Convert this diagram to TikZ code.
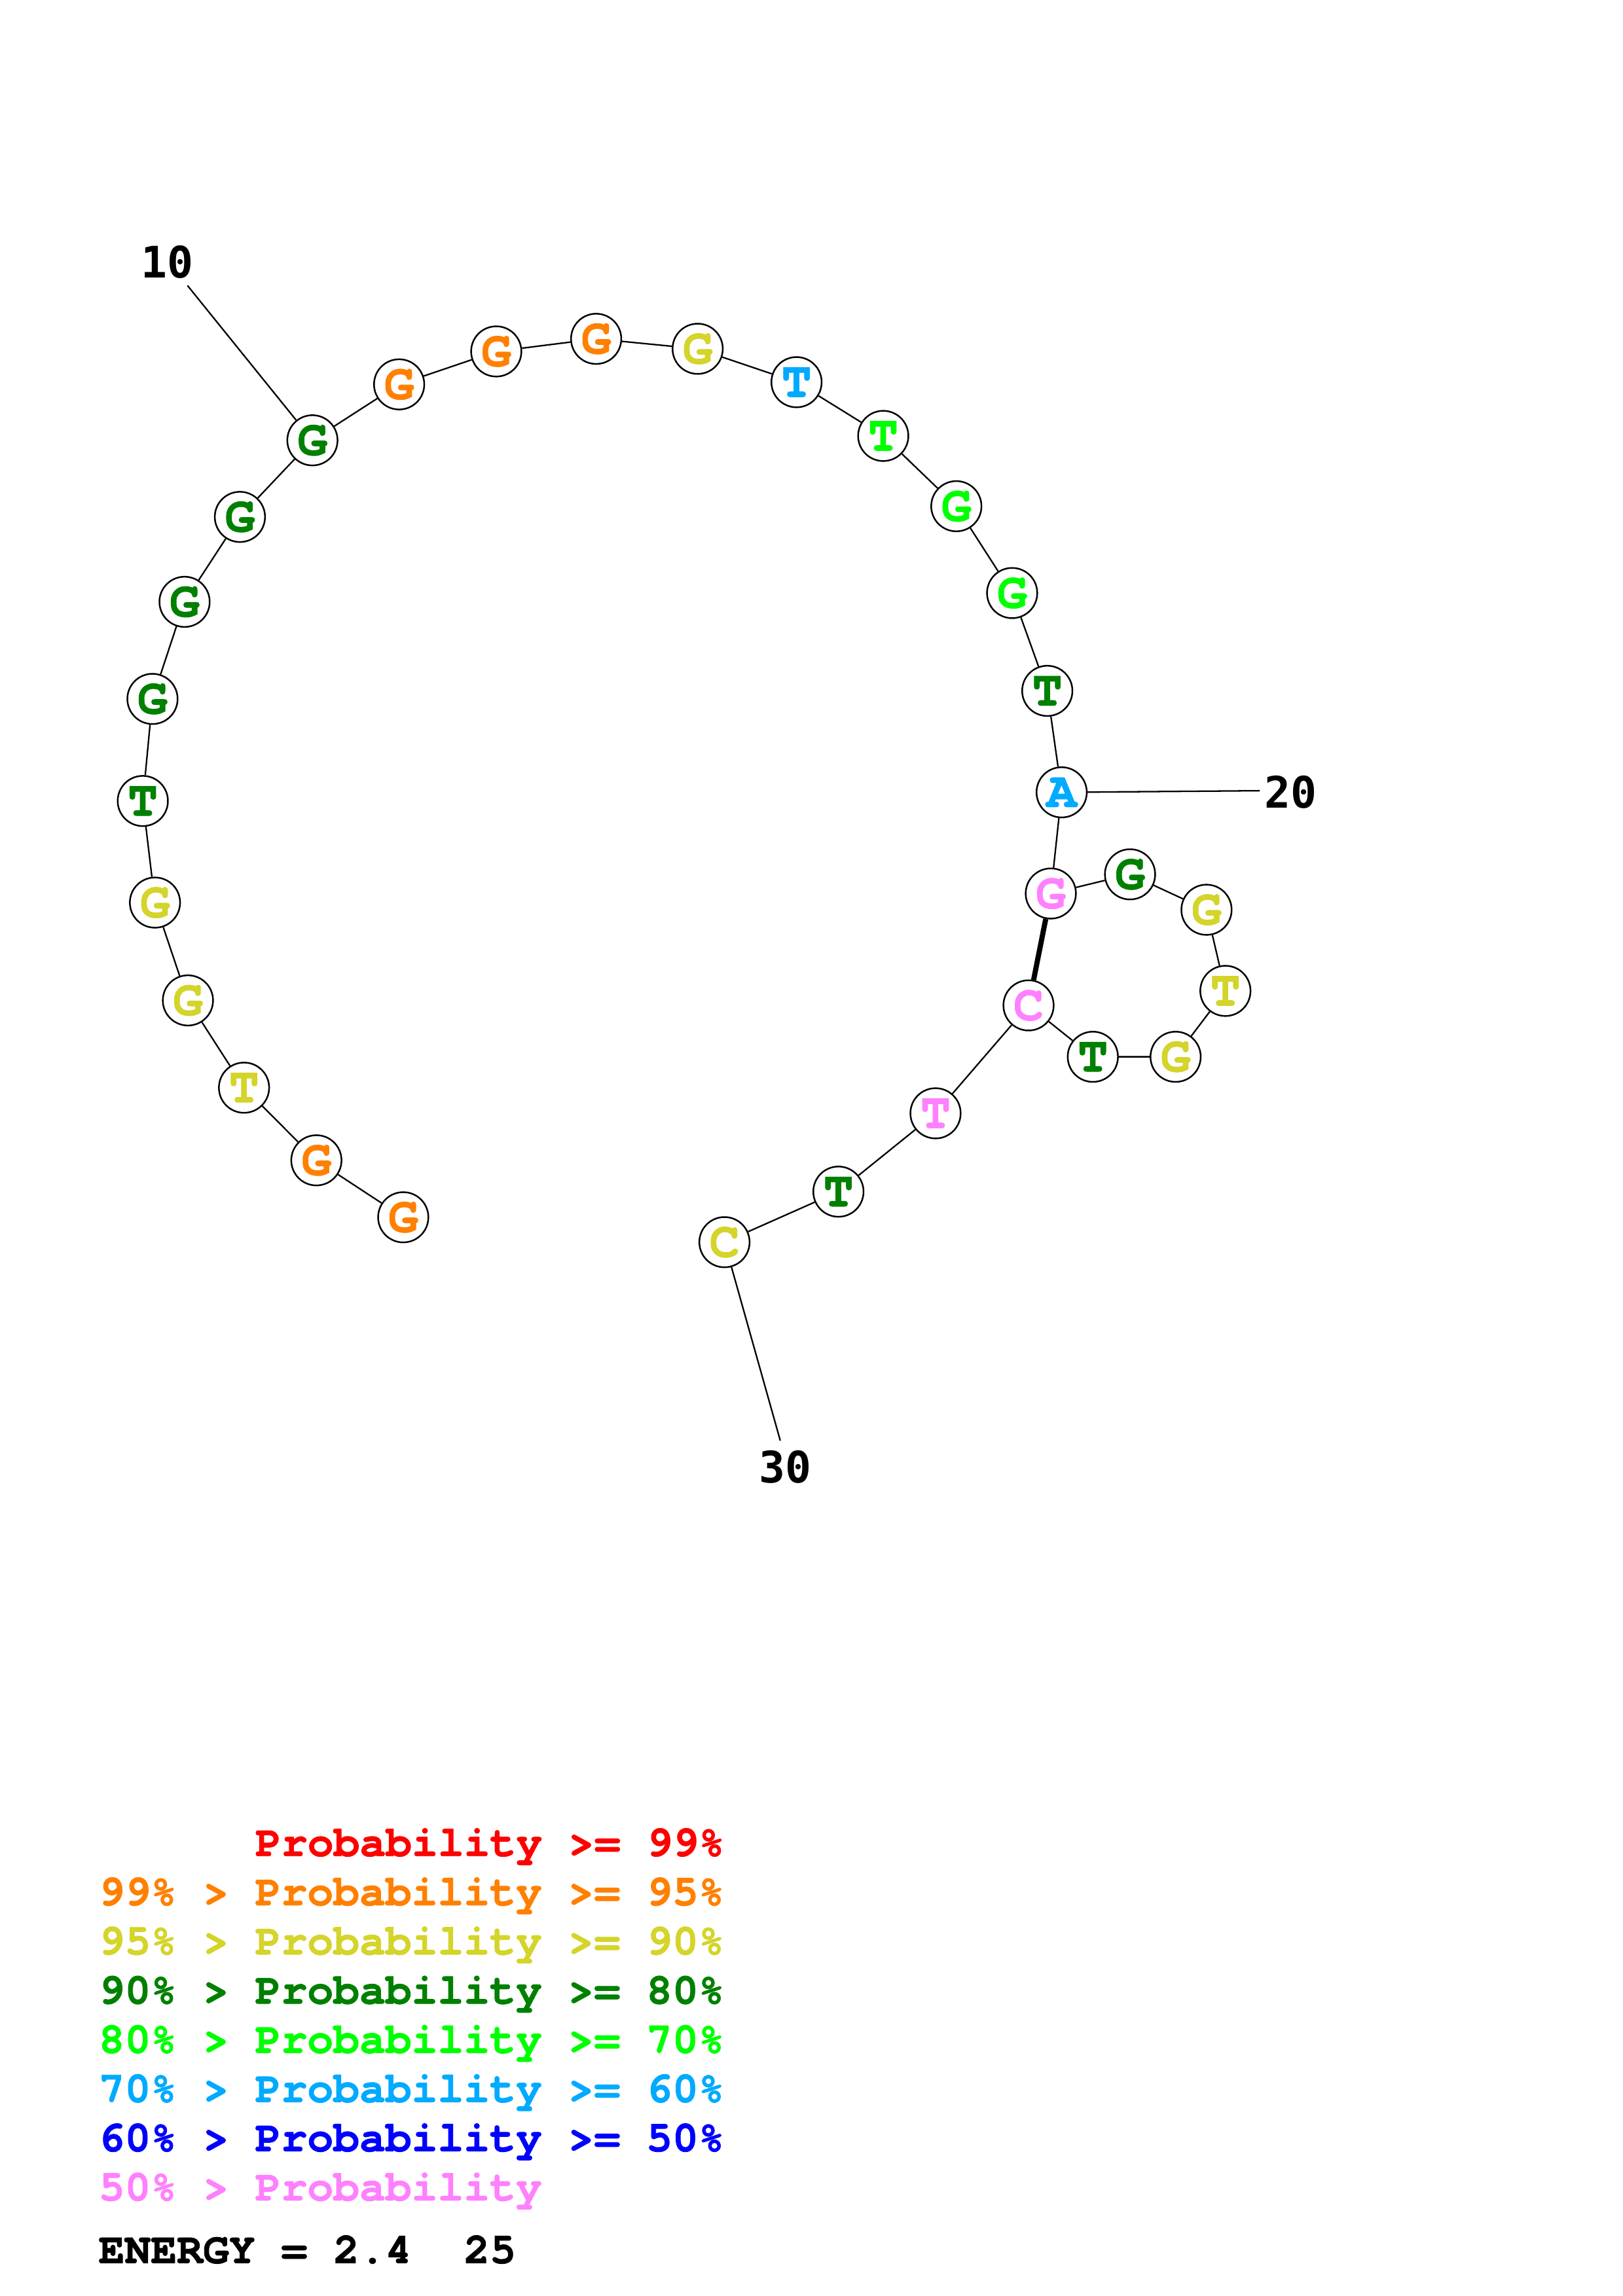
\documentclass[tikz,border=0pt]{standalone}
\usepackage{fontspec}
\setmonofont{texgyrecursor}[Extension=.otf, UprightFont=*-regular, BoldFont=*-bold,
    BoldFeatures={FakeBold=1.3}]
\newfontfamily\numfont{DejaVu Sans Mono}
\usetikzlibrary{positioning}

\definecolor{pr99}{RGB}{255,0,0}
\definecolor{pr95}{RGB}{255,128,0}
\definecolor{pr90}{RGB}{212,212,42}
\definecolor{pr80}{RGB}{0,128,0}
\definecolor{pr70}{RGB}{0,255,0}
\definecolor{pr60}{RGB}{0,170,255}
\definecolor{pr50}{RGB}{0,0,255}
\definecolor{prlow}{RGB}{255,128,255}

\tikzset{
    nuc/.style={circle, draw, line width=0.6pt, fill=white, minimum size=0.65cm,
        inner sep=0pt, font=\ttfamily\bfseries\fontsize{18.5}{19}\selectfont},
    bond/.style={line width=0.55pt},
    pairbond/.style={line width=1.9pt},
    numlabel/.style={inner sep=0pt, font=\numfont\bfseries\fontsize{16}{16}\selectfont},
    legend/.style={anchor=base west, inner sep=0pt,
        font=\ttfamily\bfseries\fontsize{16}{16}\selectfont}
}

\begin{document}
\begin{tikzpicture}[x=0.018953cm, y=-0.018953cm]
    \useasboundingbox (0,0) rectangle (1108,1568);

    % Bases
    \node[nuc, text=pr95] (n1)  at (275.3,831.3) {G};
    \node[nuc, text=pr95] (n2)  at (216.0,792.4) {G};
    \node[nuc, text=pr90] (n3)  at (166.6,742.8) {T};
    \node[nuc, text=pr90] (n4)  at (128.3,683.2) {G};
    \node[nuc, text=pr90] (n5)  at (105.8,616.4) {G};
    \node[nuc, text=pr80] (n6)  at (97.5,547.0) {T};
    \node[nuc, text=pr80] (n7)  at (104.1,477.3) {G};
    \node[nuc, text=pr80] (n8)  at (126.0,411.0) {G};
    \node[nuc, text=pr80] (n9)  at (163.8,353.0) {G};
    \node[nuc, text=pr80] (n10) at (213.3,300.7) {G};
    \node[nuc, text=pr95] (n11) at (272.5,262.5) {G};
    \node[nuc, text=pr95] (n12) at (338.8,240.0) {G};
    \node[nuc, text=pr95] (n13) at (407.0,231.4) {G};
    \node[nuc, text=pr90] (n14) at (476.3,238.2) {G};
    \node[nuc, text=pr60] (n15) at (543.8,261.0) {T};
    \node[nuc, text=pr70] (n16) at (603.0,297.7) {T};
    \node[nuc, text=pr70] (n17) at (652.9,345.7) {G};
    \node[nuc, text=pr70] (n18) at (691.0,405.0) {G};
    \node[nuc, text=pr80] (n19) at (715.0,471.8) {T};
    \node[nuc, text=pr60] (n20) at (724.8,541.1) {A};
    \node[nuc, text=prlow] (n21) at (717.4,610.2) {G};
    \node[nuc, text=pr80] (n22) at (771.5,597.1) {G};
    \node[nuc, text=pr90] (n23) at (823.7,621.3) {G};
    \node[nuc, text=pr90] (n24) at (836.6,676.7) {T};
    \node[nuc, text=pr90] (n25) at (802.6,721.7) {G};
    \node[nuc, text=pr80] (n26) at (746.1,721.7) {T};
    \node[nuc, text=prlow] (n27) at (702.2,686.6) {C};
    \node[nuc, text=prlow] (n28) at (638.7,760.3) {T};
    \node[nuc, text=pr80] (n29) at (572.4,813.8) {T};
    \node[nuc, text=pr90] (n30) at (494.6,848.3) {C};

    % Backbone
    \draw[bond] (n1) -- (n2) -- (n3) -- (n4) -- (n5) -- (n6) -- (n7) -- (n8)
        -- (n9) -- (n10) -- (n11) -- (n12) -- (n13) -- (n14) -- (n15) -- (n16)
        -- (n17) -- (n18) -- (n19) -- (n20) -- (n21) -- (n22) -- (n23) -- (n24)
        -- (n25) -- (n26) -- (n27) -- (n28) -- (n29) -- (n30);

    % Base pair
    \draw[pairbond] (n21) -- (n27);

    % Position labels
    \node[numlabel] (l10) at (114,179) {10};
    \node[numlabel] (l20) at (881,541) {20};
    \node[numlabel] (l30) at (536,1002) {30};
    \coordinate (c10) at (128,195);
    \coordinate (c20) at (860,540);
    \coordinate (c30) at (532.7,983.8);
    \draw[bond] (n10) -- (c10);
    \draw[bond] (n20) -- (c20);
    \draw[bond] (n30) -- (c30);

    % Legend
    \node[legend, text=pr99]  (leg1) at (174,1267.5) {Probability >= 99\%};
    \node[legend, text=pr95]  (leg2) at (67,1301.1) {99\% > Probability >= 95\%};
    \node[legend, text=pr90]  (leg3) at (67,1334.7) {95\% > Probability >= 90\%};
    \node[legend, text=pr80]  (leg4) at (67,1368.3) {90\% > Probability >= 80\%};
    \node[legend, text=pr70]  (leg5) at (67,1401.9) {80\% > Probability >= 70\%};
    \node[legend, text=pr60]  (leg6) at (67,1435.5) {70\% > Probability >= 60\%};
    \node[legend, text=pr50]  (leg7) at (67,1469.1) {60\% > Probability >= 50\%};
    \node[legend, text=prlow] (leg8) at (67,1502.7) {50\% > Probability};
    \node[legend] (energy) at (67,1545.5) {ENERGY = 2.4\ \ 25};
\end{tikzpicture}
\end{document}
